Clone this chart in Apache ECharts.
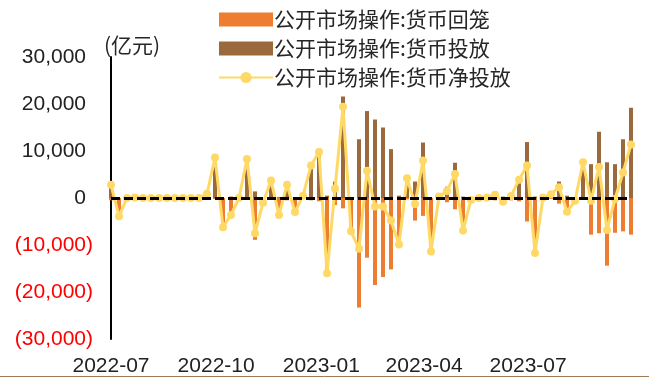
<!DOCTYPE html>
<html>
<head>
<meta charset="utf-8">
<script src="https://cdn.jsdelivr.net/npm/echarts@6/dist/echarts.min.js"></script>
<style>
  html, body { margin: 0; padding: 0; background: #fff; }
  #chart { width: 649px; height: 378px; }
</style>
</head>
<body>
<div id="chart"></div>
<script>
// Weekly dates (Fridays)
const weeks = [
  '2022-07-01','2022-07-08','2022-07-15','2022-07-22','2022-07-29',
  '2022-08-05','2022-08-12','2022-08-19','2022-08-26',
  '2022-09-02','2022-09-09','2022-09-16','2022-09-23','2022-09-30',
  '2022-10-07','2022-10-14','2022-10-21','2022-10-28',
  '2022-11-04','2022-11-11','2022-11-18','2022-11-25',
  '2022-12-02','2022-12-09','2022-12-16','2022-12-23','2022-12-30',
  '2023-01-06','2023-01-13','2023-01-20','2023-01-27',
  '2023-02-03','2023-02-10','2023-02-17','2023-02-24',
  '2023-03-03','2023-03-10','2023-03-17','2023-03-24','2023-03-31',
  '2023-04-07','2023-04-14','2023-04-21','2023-04-28',
  '2023-05-05','2023-05-12','2023-05-19','2023-05-26',
  '2023-06-02','2023-06-09','2023-06-16','2023-06-23','2023-06-30',
  '2023-07-07','2023-07-14','2023-07-21','2023-07-28',
  '2023-08-04','2023-08-11','2023-08-18','2023-08-25',
  '2023-09-01','2023-09-08','2023-09-15','2023-09-22','2023-09-29'
];

// 公开市场操作:货币回笼 (亿元, shown below zero)
const withdrawal = [
  -500, -3900, 0, 0, 0, 0, 0, 0, 0, 0, 0, 0, 0,
  -200, -6200, -3900, 0, -200, -8900, -1000, -300, -3800, -500, -3000, 0,
  -500, -700, -16500, -1500, -2200, -7100, -23300, -12700, -18500, -16800, -15200, -10400,
  -300, -4800, -3800, -11400, 0, -900, -2400, -7200, -400, 0, 0, -500, -1100, -500,
  -700, -5000, -12000, 0, -200, -1200, -3400, -600, 0, -7800, -7500, -14400, -7400, -7100, -7800
];

// 公开市场操作:货币投放 (亿元)
const injection = [
  3300, 0, 0, 100, 0, 0, 0, 0, 0, 0, 0, 0, 1200,
  8800, 0, 300, 0, 8500, 1400, 0, 4000, 200, 3300, 0, 500,
  7400, 10500, 500, 3500, 21600, 0, 12500, 18500, 16700, 15000, 10400, 500,
  4500, 3500, 11800, 0, 300, 2400, 7500, 300, 0, 0, 100, 1200, 300, 900,
  4600, 11900, 300, 100, 1000, 3500, 500, 0, 7600, 7200, 14100, 7600, 7200, 12500, 19200
];

// 公开市场操作:货币净投放 (亿元)
const netInjection = [
  2800, -3900, 0, 100, 0, 0, 0, 0, 0, 0, 0, 0, 900,
  8600, -6200, -3600, 0, 8300, -7500, -1000, 3700, -3600, 2800, -3000, 500,
  6900, 9800, -16000, 2000, 19400, -7100, -10800, 5800, -1800, -1800, -4800, -9900,
  4200, -1300, 8000, -11400, 300, 1500, 5100, -6900, -400, 0, 100, 700, -800, 400,
  3900, 6900, -11700, 100, 800, 2300, -2900, -600, 7600, -600, 6600, -6800, -200, 5400, 11400
];

// Quarter ticks on the date axis
const quarterTicks = ['2022-07-01', '2022-10-01', '2023-01-01', '2023-04-01', '2023-07-01'];

const seriesNames = ['公开市场操作:货币回笼', '公开市场操作:货币投放', '公开市场操作:货币净投放'];
const colors = { out: '#ED7D31', inj: '#9B6A3C', net: '#FFD966' };

// Dates are placed on a day-count axis measured from the first week
const DAY = 86400000;
const toUTC = (s) => { const p = s.split('-').map(Number); return Date.UTC(p[0], p[1] - 1, p[2]); };
const origin = toUTC(weeks[0]);
const dayOf = (s) => Math.round((toUTC(s) - origin) / DAY);
const labelOf = (d) => {
  const t = new Date(origin + d * DAY);
  const m = t.getUTCMonth() + 1;
  return t.getUTCFullYear() + '-' + (m < 10 ? '0' + m : m);
};

const pair = (arr) => arr.map((v, i) => [dayOf(weeks[i]), v]);

function thousands(n) {
  return String(n).replace(/\B(?=(\d{3})+(?!\d))/g, ',');
}

const chart = echarts.init(document.getElementById('chart'), null, { renderer: 'canvas' });

chart.setOption({
  animation: false,
  backgroundColor: '#ffffff',
  textStyle: { fontFamily: 'Liberation Sans, Arial, sans-serif' },
  grid: { left: 111, right: 18, top: 57, bottom: 39, containLabel: false },
  legend: {
    orient: 'vertical',
    left: 213,
    top: 4,
    itemWidth: 54,
    itemHeight: 14,
    itemGap: 8,
    textStyle: { fontFamily: 'Noto Sans CJK SC', fontSize: 21, color: '#262626', padding: [0, 0, 0, -4] },
    data: [
      { name: seriesNames[0], icon: 'rect' },
      { name: seriesNames[1], icon: 'rect' },
      { name: seriesNames[2] }
    ]
  },
  graphic: [
    {
      type: 'text',
      left: 104,
      top: 35,
      style: { text: '(亿元)', fontFamily: 'Noto Sans CJK SC', fontSize: 21, fill: '#262626' }
    },
    {
      type: 'line',
      shape: { x1: 0, y1: 376.5, x2: 649, y2: 376.5 },
      style: { stroke: '#A07A55', lineWidth: 1 }
    }
  ],
  xAxis: {
    type: 'value',
    min: 0,
    max: dayOf(weeks[weeks.length - 1]),
    axisLine: { show: false },
    axisTick: { show: false },
    splitLine: { show: false },
    axisLabel: {
      customValues: quarterTicks.map(dayOf),
      fontSize: 21,
      color: '#222',
      margin: 17,
      showMinLabel: true,
      showMaxLabel: true,
      formatter: (v) => labelOf(v)
    }
  },
  yAxis: {
    type: 'value',
    min: -30000,
    max: 30000,
    interval: 10000,
    axisLine: { show: true, lineStyle: { color: '#000', width: 2 } },
    axisTick: { show: false },
    splitLine: { show: false },
    axisLabel: {
      margin: 18,
      fontSize: 21,
      formatter: (v) => v < 0 ? '{n|(' + thousands(-v) + ')}' : '{p|' + thousands(v) + '}',
      rich: {
        n: { color: '#ff0000', fontSize: 21, fontFamily: 'Liberation Sans' },
        p: { color: '#222', fontSize: 21, fontFamily: 'Liberation Sans', padding: [0, 7, 0, 0] }
      }
    }
  },
  series: [
    {
      name: seriesNames[0],
      type: 'bar',
      barWidth: 4,
      barGap: '-100%',
      itemStyle: { color: colors.out },
      data: pair(withdrawal)
    },
    {
      name: seriesNames[1],
      type: 'bar',
      barWidth: 4,
      barGap: '-100%',
      itemStyle: { color: colors.inj },
      data: pair(injection),
      markLine: {
        silent: true,
        symbol: 'none',
        label: { show: false },
        lineStyle: { color: '#000', width: 3, type: [9, 4] },
        data: [{ yAxis: 0 }]
      }
    },
    {
      name: seriesNames[2],
      type: 'line',
      symbol: 'circle',
      symbolSize: 8,
      lineStyle: { color: colors.net, width: 3 },
      itemStyle: { color: colors.net },
      data: pair(netInjection)
    }
  ]
});
</script>
</body>
</html>
